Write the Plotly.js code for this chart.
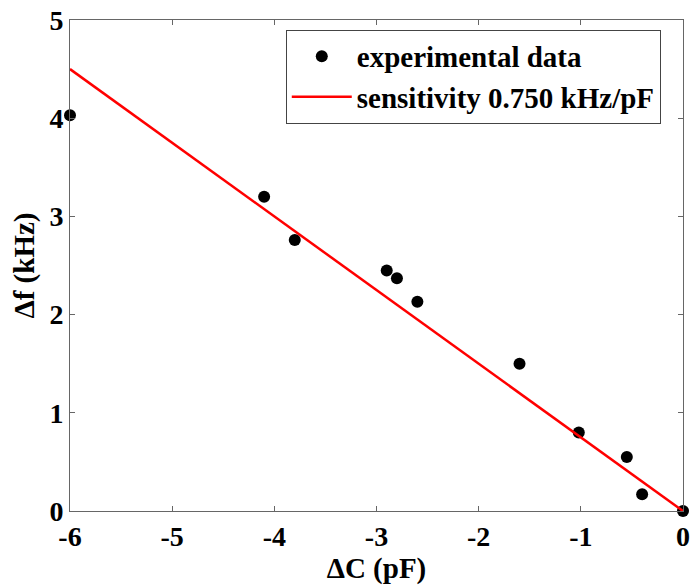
<!DOCTYPE html>
<html><head><meta charset="utf-8">
<script src="https://cdn.plot.ly/plotly-3.0.1.min.js"></script>
<style>body{margin:0;background:#fff}</style>
</head><body>
<div id="chart" style="width:692px;height:588px"></div>
<script>
var dC = [-6.0, -4.10, -3.80, -2.90, -2.80, -2.60, -1.60, -1.02, -0.55, -0.40, 0.0];
var dF = [4.03, 3.20, 2.76, 2.45, 2.37, 2.13, 1.50, 0.80, 0.55, 0.17, 0.0];
var fitX = [-6, 0];
var sensitivity = 0.750;
var fitY = fitX.map(function(x){ return -sensitivity * x; });
var xTicks = [-6, -5, -4, -3, -2, -1, 0];
var yTicks = [0, 1, 2, 3, 4, 5];

var fontFam = '"Liberation Serif", "Times New Roman", serif';
var traces = [
  {x: dC, y: dF, mode: 'markers', type: 'scatter', name: '<b>experimental data</b>',
   marker: {color: '#000', size: 12}, cliponaxis: false},
  {x: fitX, y: fitY, mode: 'lines', type: 'scatter', name: '<b>sensitivity 0.750 kHz/pF</b>',
   line: {color: '#ff0000', width: 2.5}}
];
var axisCommon = {
  showgrid: false, zeroline: false, showline: true, mirror: 'ticks',
  linecolor: '#666', linewidth: 1, ticks: 'inside', ticklen: 5, tickcolor: '#666',
  tickfont: {family: fontFam, size: 28, color: '#000', weight: 'bold'}
};
var layout = {
  width: 692, height: 588,
  margin: {l: 70, r: 9, t: 20, b: 77},
  paper_bgcolor: '#fff', plot_bgcolor: '#fff',
  font: {family: fontFam, color: '#000'},
  xaxis: Object.assign({}, axisCommon, {
    range: [-6, 0], tickvals: xTicks, ticktext: xTicks.map(String),
    title: {text: '<b>ΔC (pF)</b>', font: {family: fontFam, size: 29, color: '#000'}, standoff: 4}
  }),
  yaxis: Object.assign({}, axisCommon, {
    range: [0, 5], tickvals: yTicks, ticktext: yTicks.map(String),
    title: {text: '<b>Δf (kHz)</b>', font: {family: fontFam, size: 29, color: '#000'}, standoff: 6}
  }),
  showlegend: true,
  legend: {x: 0.352, y: 0.98, xanchor: 'left', yanchor: 'top',
    bordercolor: '#444', borderwidth: 1, bgcolor: '#fff', itemwidth: 60,
    font: {family: fontFam, size: 29, color: '#000'}, tracegroupgap: 0}
};
Plotly.newPlot('chart', traces, layout, {displayModeBar: false});
</script>
</body></html>
